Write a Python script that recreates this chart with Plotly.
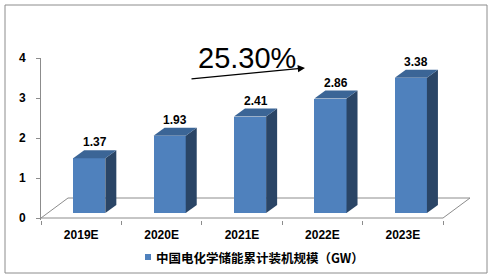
import plotly.graph_objects as go

categories = ["2019E", "2020E", "2021E", "2022E", "2023E"]
values = [1.37, 1.93, 2.41, 2.86, 3.38]
value_labels = ["1.37", "1.93", "2.41", "2.86", "3.38"]
series_name = "中国电化学储能累计装机规模（GW）"
growth_label = "25.30%"
y_ticks = [0, 1, 2, 3, 4]

# layout geometry (pixels)
W, H = 494, 278
L, R, T, B = 41, 472, 58, 220
xr = [-0.5, -0.5 + (R - L) / 80.4]
yr = [-(B - 218) / 40.0, 4.0]

def px_to_paper_x(px):
    return (px - L) / (R - L)

def px_to_paper_y(py):
    return (B - py) / (B - T)

# 3D styling offsets in data units
ox, oy = 0.10, 0.125     # bar front-face offset from axis plane
bw = 0.40                # bar width
ddx, ddy = 0.137, 0.20   # bar depth
fx, fy = 0.336, 0.50     # floor depth

FRONT = "#4F81BD"
TOP = "#3B6596"
SIDE = "#2A4566"
GRID = "#8C8C8C"

fig = go.Figure()
xs = list(range(len(categories)))
n = len(categories)

# front faces
fig.add_trace(go.Bar(x=[c + ox for c in xs], y=values, base=oy, width=bw,
                     marker=dict(color=FRONT, line=dict(width=0)),
                     name=series_name, showlegend=False))

# side + top faces
for c, v in zip(xs, values):
    x0, x1 = c + ox - bw / 2, c + ox + bw / 2
    y0, y1 = oy, oy + v
    fig.add_trace(go.Scatter(
        x=[x1, x1 + ddx, x1 + ddx, x1, x1], y=[y0, y0 + ddy, y1 + ddy, y1, y0],
        fill="toself", fillcolor=SIDE, mode="lines", line=dict(width=0, color=SIDE),
        hoverinfo="skip", showlegend=False))
    fig.add_trace(go.Scatter(
        x=[x0, x1, x1 + ddx, x0 + ddx, x0], y=[y1, y1, y1 + ddy, y1 + ddy, y1],
        fill="toself", fillcolor=TOP, mode="lines", line=dict(width=0, color=TOP),
        hoverinfo="skip", showlegend=False))

annotations = []
for c, v, t in zip(xs, values, value_labels):
    annotations.append(dict(x=c + ox + ddx / 2, y=oy + v + ddy, text="<b>%s</b>" % t,
                            showarrow=False, yanchor="bottom", yshift=-1,
                            font=dict(family="Liberation Sans", size=12, color="black")))

annotations.append(dict(xref="paper", yref="paper", x=px_to_paper_x(247), y=px_to_paper_y(58),
                        text=growth_label, showarrow=False, xanchor="center", yanchor="middle",
                        font=dict(family="Liberation Sans", size=29, color="black")))
annotations.append(dict(xref="paper", yref="paper", x=px_to_paper_x(305), y=px_to_paper_y(68),
                        axref="pixel", ayref="pixel", ax=-115, ay=11, text="",
                        showarrow=True, arrowhead=2, arrowsize=1.2, arrowwidth=1.2,
                        arrowcolor="black"))
# legend text
annotations.append(dict(xref="paper", yref="paper", x=px_to_paper_x(154), y=px_to_paper_y(257),
                        text="<b>%s</b>" % series_name, showarrow=False,
                        xanchor="left", yanchor="middle",
                        font=dict(family="Noto Sans CJK SC", size=12.5, color="black")))

shapes = [
    dict(type="rect", xref="paper", yref="paper",
         x0=px_to_paper_x(5), x1=px_to_paper_x(487),
         y0=px_to_paper_y(273), y1=px_to_paper_y(5),
         line=dict(color=GRID, width=1), fillcolor="rgba(0,0,0,0)"),
    # legend swatch
    dict(type="rect", xref="paper", yref="paper",
         x0=px_to_paper_x(145), x1=px_to_paper_x(151),
         y0=px_to_paper_y(260), y1=px_to_paper_y(254),
         line=dict(width=0), fillcolor=FRONT),
    # floor (behind bars)
    dict(type="path", xref="x", yref="y", layer="below",
         path="M %f,0 L %f,%f L %f,%f L %f,0 Z" % (-0.5, -0.5 + fx, fy, n - 0.5 + fx, fy, n - 0.5),
         line=dict(color=GRID, width=1), fillcolor="rgba(0,0,0,0)"),
]

fig.update_layout(
    width=W, height=H,
    margin=dict(l=L, r=W - R, t=T, b=H - B, pad=0, autoexpand=False),
    paper_bgcolor="white", plot_bgcolor="rgba(0,0,0,0)",
    showlegend=False,
    annotations=annotations, shapes=shapes,
    xaxis=dict(range=xr, tickvals=xs, ticktext=["<b>%s</b>" % c for c in categories],
               showgrid=False, zeroline=False, showline=False, ticks="",
               tickfont=dict(family="Liberation Sans", size=12, color="black"),
               ticklabelstandoff=6,
               minor=dict(tickvals=[i - 0.5 for i in range(n + 1)], ticks="outside",
                          ticklen=4, tickcolor=GRID, showgrid=False),
               automargin=False, fixedrange=True),
    yaxis=dict(range=yr, tickvals=y_ticks, ticktext=["<b>%d</b>" % t for t in y_ticks],
               showgrid=False, zeroline=False, showline=True, linecolor=GRID,
               linewidth=1, ticks="outside", ticklen=4, tickcolor=GRID,
               tickfont=dict(family="Liberation Sans", size=12, color="black"),
               ticklabelstandoff=8, automargin=False, fixedrange=True),
    bargap=0,
)

fig.write_html("out.html", config={"displayModeBar": False})
